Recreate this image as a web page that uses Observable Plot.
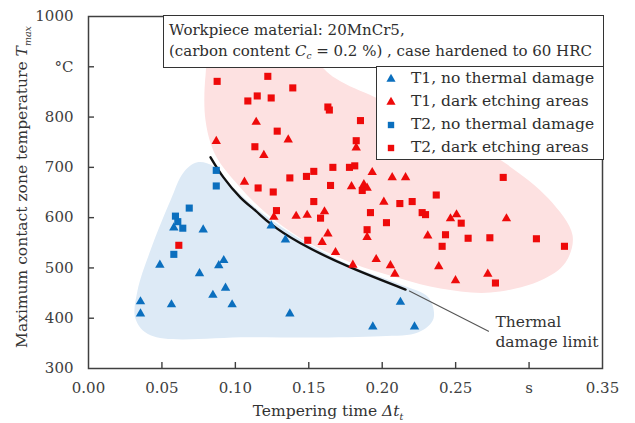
<!DOCTYPE html>
<html><head><meta charset="utf-8">
<script src="https://cdn.jsdelivr.net/npm/d3@7"></script>
<script src="https://cdn.jsdelivr.net/npm/@observablehq/plot@0.6"></script>
<style>
body{margin:0;background:#fff;}
#wrap{position:relative;width:635px;height:423px;font-family:"DejaVu Serif",serif;}
.box{position:absolute;background:#fff;border:1.5px solid #333;box-sizing:border-box;color:#2e2e2e;font-size:15px;white-space:nowrap;}
.box sub{font-size:0.6em;vertical-align:-0.3em;line-height:0;}
.leg div{height:23px;line-height:23px;display:flex;align-items:center;}
.leg svg{margin-left:8px;margin-right:14px;}
</style></head><body><div id="wrap"></div>
<script>
// ---- axes ----
const xTicks = [0, 0.05, 0.1, 0.15, 0.2, 0.25, 0.3, 0.35];
const xTickLabels = ["0.00", "0.05", "0.10", "0.15", "0.20", "0.25", "s", "0.35"];
const yTicks = [300, 400, 500, 600, 700, 800, 900, 1000];
const yTickLabels = ["300", "400", "500", "600", "700", "800", "°C", "1000"];

// ---- data: [tempering time s, Tmax °C] ----
const t1NoDamage = [[0.0354,433],[0.0354,409],[0.0486,506],[0.0565,427],[0.0581,580],[0.0756,489],[0.0781,576],[0.0847,446],[0.0887,505],[0.0921,515],[0.0933,460],[0.0978,427],[0.1244,584],[0.1341,556],[0.1371,409],[0.1936,383],[0.2124,432],[0.222,383]];
const t2NoDamage = [[0.087,694],[0.087,663],[0.0686,619],[0.0592,603],[0.0608,592],[0.0642,579],[0.0581,527]];
const t1Dark = [[0.087,752],[0.1142,790],[0.1194,724],[0.1062,671],[0.136,755],[0.1823,739],[0.1932,690],[0.2068,680],[0.2159,680],[0.1791,662],[0.1875,666],[0.1897,659],[0.2011,631],[0.1262,601],[0.1414,603],[0.1489,605],[0.1607,612],[0.2465,598],[0.2506,606],[0.2846,598],[0.231,564],[0.163,568],[0.1591,551],[0.1682,531],[0.18,506],[0.1897,561],[0.1959,517],[0.2056,505],[0.2086,488],[0.2385,503],[0.2499,475],[0.2719,488]];
const t2Dark = [[0.0876,871],[0.1221,881],[0.1085,832],[0.1149,842],[0.1244,838],[0.1391,858],[0.163,820],[0.164,814],[0.1852,793],[0.1133,741],[0.1285,772],[0.1823,753],[0.1155,659],[0.1258,651],[0.1371,679],[0.1484,682],[0.1534,692],[0.1664,700],[0.1777,700],[0.1813,703],[0.1648,664],[0.1864,654],[0.1534,632],[0.212,628],[0.2204,632],[0.128,614],[0.158,599],[0.192,610],[0.2029,590],[0.2272,610],[0.2295,606],[0.2824,680],[0.2368,645],[0.2538,589],[0.2431,566],[0.2585,559],[0.2733,560],[0.305,558],[0.3241,543],[0.2408,543],[0.2771,470],[0.1897,576],[0.1493,555],[0.0615,545]];

// thermal damage limit curve
const limitCurve = [[0.0831,720],[0.0919,680],[0.1035,640],[0.1137,614],[0.1239,588],[0.1444,549],[0.1784,501],[0.2159,457]];
const leaderLine = [[0.2185,454],[0.2724,374]];
const limitLabel = [{x:0.2771, y:376, text:"Thermal\ndamage limit"}];

// shaded regions
const pinkRegion = [[0.0797,883],[0.0831,932],[0.1001,952],[0.1376,952],[0.1682,877],[0.1954,839],[0.2465,773],[0.2839,708],[0.3132,638],[0.3296,565],[0.3248,511],[0.3078,475],[0.2737,451],[0.2397,459],[0.2124,479],[0.1784,511],[0.1444,559],[0.1205,610],[0.1021,664],[0.0865,724],[0.0797,793]];
const blueRegion = [[0.0742,710],[0.0851,702],[0.0953,670],[0.1103,628],[0.1273,590],[0.1478,551],[0.1784,505],[0.2124,467],[0.2315,441],[0.2349,399],[0.2247,372],[0.1988,364],[0.1103,362],[0.0422,366],[0.032,399],[0.0334,455],[0.0422,535],[0.0558,634],[0.0647,690]];

const legendItems = ["T1, no thermal damage","T1, dark etching areas","T2, no thermal damage","T2, dark etching areas"];

const RED = "#ee0a0a", BLUE = "#0b6fbe", AX = "#404040";
const fx = d => d[0], fy = d => d[1];
const W = 635, H = 423, ML = 88, MR = 33, MT = 16, MB = 55, TICK = 6;

const chart = Plot.plot({
  width: W, height: H,
  marginLeft: ML, marginRight: MR, marginTop: MT, marginBottom: MB,
  style: {fontFamily: "DejaVu Serif, serif", fontSize: "15px", color: AX, background: "transparent"},
  x: {domain: [0, 0.35]},
  y: {domain: [300, 1000]},
  marks: [
    Plot.line(blueRegion, {x: fx, y: fy, curve: "catmull-rom-closed", fill: "#ddeaf6", stroke: "none"}),
    Plot.line(pinkRegion, {x: fx, y: fy, curve: "catmull-rom-closed", fill: "#fde1e1", stroke: "none"}),
    Plot.line(limitCurve, {x: fx, y: fy, curve: "natural", stroke: "#111", strokeWidth: 2.4}),
    Plot.line(leaderLine, {x: fx, y: fy, stroke: "#555", strokeWidth: 1.1}),
    Plot.dot(t2Dark, {x: fx, y: fy, symbol: "square", r: 4, fill: RED}),
    Plot.dot(t1Dark, {x: fx, y: fy, symbol: "triangle", r: 3.5, fill: RED}),
    Plot.dot(t2NoDamage, {x: fx, y: fy, symbol: "square", r: 4, fill: BLUE}),
    Plot.dot(t1NoDamage, {x: fx, y: fy, symbol: "triangle", r: 3.5, fill: BLUE}),
    Plot.text(limitLabel, {x: "x", y: "y", text: "text", textAnchor: "start", lineAnchor: "middle", lineHeight: 1.33, fontSize: 15.5, fill: "#333"}),
    Plot.tickX(xTicks.slice(1, -1), {x: d => d, insetTop: H - MT - MB - TICK, stroke: AX, strokeWidth: 1.4}),
    Plot.tickY(yTicks.slice(1, -1), {y: d => d, insetRight: W - ML - MR - TICK, stroke: AX, strokeWidth: 1.4}),
    Plot.axisX({ticks: xTicks, tickSize: 0, tickPadding: 14, tickFormat: d => xTickLabels[xTicks.indexOf(d)], label: null}),
    Plot.axisY({ticks: yTicks, tickSize: 0, tickPadding: 15, tickFormat: d => yTickLabels[yTicks.indexOf(d)], label: null}),
    Plot.frame({stroke: AX, strokeWidth: 1.5})
  ]
});

const wrap = document.getElementById("wrap");
wrap.appendChild(chart);
const svg = d3.select(chart);

// axis titles with italic symbols and subscripts
const xt = svg.append("text").attr("x", 328).attr("y", 416).attr("text-anchor", "middle")
  .attr("fill", "#333").attr("font-size", 15.5).attr("font-family", "DejaVu Serif, serif");
xt.append("tspan").text("Tempering time ");
xt.append("tspan").attr("font-style", "italic").text("Δt");
xt.append("tspan").attr("font-style", "italic").attr("font-size", 9.5).attr("dy", 4).text("t");

const yt = svg.append("text").attr("transform", "translate(27,187) rotate(-90)").attr("text-anchor", "middle")
  .attr("fill", "#333").attr("font-size", 15.5).attr("font-family", "DejaVu Serif, serif");
yt.append("tspan").text("Maximum contact zone temperature ");
yt.append("tspan").attr("font-style", "italic").text("T");
yt.append("tspan").attr("font-style", "italic").attr("font-size", 9.5).attr("dy", 4).text("max");

// annotation box
const note = document.createElement("div");
note.className = "box";
Object.assign(note.style, {left: "163px", top: "15px", width: "441px", height: "53px", padding: "4px 0 0 5px", lineHeight: "21px"});
note.innerHTML = "Workpiece material: 20MnCr5,<br>(carbon content <i>C</i><sub><i>c</i></sub> = 0.2 %) , case hardened to 60 HRC";
wrap.appendChild(note);

// legend
const leg = document.createElement("div");
leg.className = "box leg";
Object.assign(leg.style, {left: "376px", top: "66px", width: "228px", height: "94px", paddingTop: "0px", fontSize: "15.5px"});
const legendSym = [["triangle", BLUE], ["triangle", RED], ["square", BLUE], ["square", RED]];
legendItems.forEach((t, i) => {
  const [s, c] = legendSym[i];
  const shape = s === "triangle"
    ? `<path d="${d3.symbol(d3.symbolTriangle, Math.PI * 3.4 * 3.4)()}" transform="translate(6,7)" fill="${c}"/>`
    : `<path d="${d3.symbol(d3.symbolSquare, Math.PI * 3.6 * 3.6)()}" transform="translate(6,7)" fill="${c}"/>`;
  const row = document.createElement("div");
  row.innerHTML = `<svg width="12" height="14">${shape}</svg><span>${t}</span>`;
  leg.appendChild(row);
});
wrap.appendChild(leg);
</script></body></html>
